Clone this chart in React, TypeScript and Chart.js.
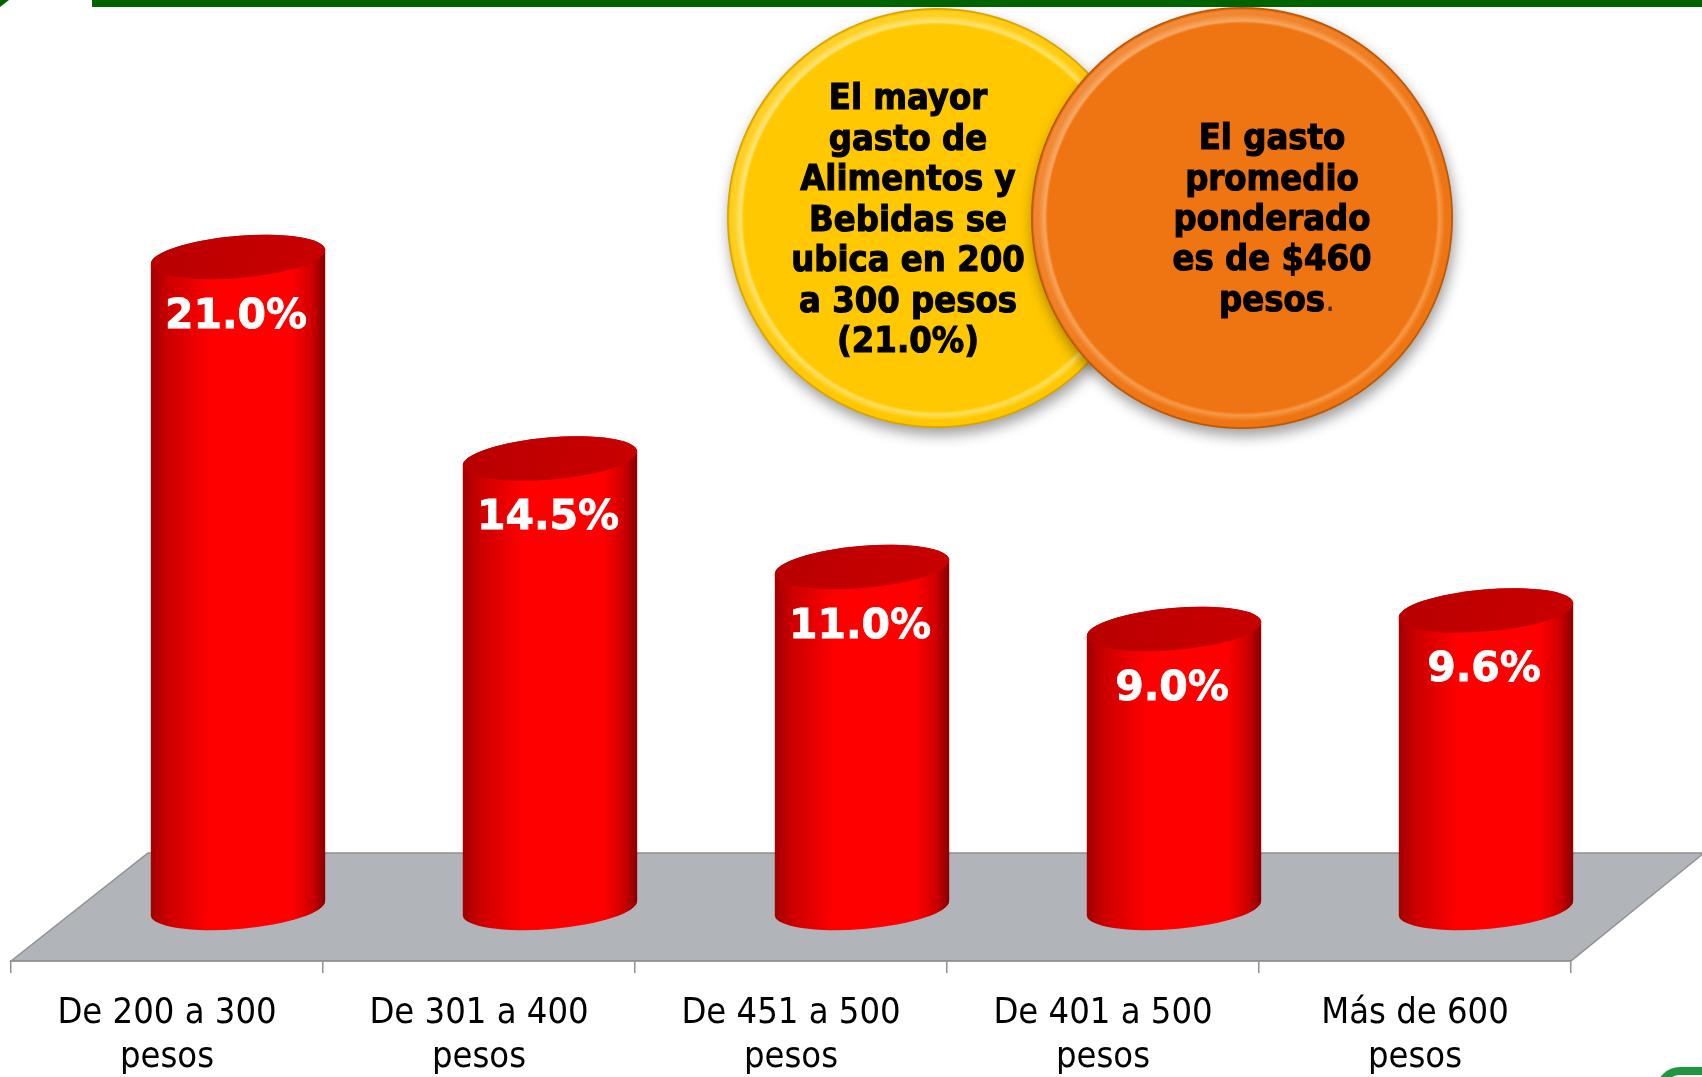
import React, { useEffect, useRef } from 'react';
import { Chart, registerables } from 'chart.js';

Chart.register(...registerables);

// ---- data ----
const categories: string[][] = [
  ['De 200 a 300', 'pesos'],
  ['De 301 a 400', 'pesos'],
  ['De 451 a 500', 'pesos'],
  ['De 401 a 500', 'pesos'],
  ['Más de 600', 'pesos'],
];
const values: number[] = [21.0, 14.5, 11.0, 9.0, 9.6];
const yellowNote: string[] = ['El mayor', 'gasto de', 'Alimentos y', 'Bebidas se', 'ubica en 200', 'a 300 pesos', '(21.0%)'];
const orangeNote: string[] = ['El gasto', 'promedio', 'ponderado', 'es de $460', 'pesos'];

const W = 1702;
const H = 1077;
const COND = "'DejaVu Sans Condensed', 'DejaVu Sans', sans-serif";

const floorPlugin = {
  id: 'floor3d',
  beforeDraw(chart: any) {
    const { ctx, chartArea } = chart;
    const { left, right, bottom } = chartArea;
    ctx.save();
    ctx.beginPath();
    ctx.moveTo(left, bottom);
    ctx.lineTo(left + 137, bottom - 108);
    ctx.lineTo(right + 133, bottom - 108);
    ctx.lineTo(right, bottom);
    ctx.closePath();
    ctx.fillStyle = '#b1b4b8';
    ctx.fill();
    ctx.strokeStyle = '#8e9094';
    ctx.lineWidth = 1.5;
    ctx.stroke();
    ctx.restore();
  },
};

const cylinderPlugin = {
  id: 'cylinders',
  afterDatasetsDraw(chart: any) {
    const { ctx } = chart;
    const meta = chart.getDatasetMeta(0);
    meta.data.forEach((bar: any, i: number) => {
      const p = bar.getProps(['x', 'y', 'base', 'width'], true);
      const cx = p.x + 71;
      const yt = p.y - 53;
      const yb = p.base - 53;
      const rx = p.width / 2;
      const ry = 21;
      const rot = -0.085;
      ctx.save();
      // side
      const g = ctx.createLinearGradient(cx - rx, 0, cx + rx, 0);
      g.addColorStop(0, '#a00000');
      g.addColorStop(0.1, '#cc0000');
      g.addColorStop(0.35, '#ff0000');
      g.addColorStop(0.8, '#ff0000');
      g.addColorStop(0.92, '#d00000');
      g.addColorStop(1, '#850000');
      ctx.beginPath();
      ctx.ellipse(cx, yb, rx, ry, rot, 0, Math.PI, false);
      ctx.ellipse(cx, yt, rx, ry, rot, Math.PI, Math.PI * 2, false);
      ctx.closePath();
      ctx.fillStyle = g;
      ctx.fill();
      // top face
      const gt = ctx.createLinearGradient(cx - rx, yt - ry, cx + rx, yt + ry);
      gt.addColorStop(0, '#b80000');
      gt.addColorStop(0.6, '#c40000');
      gt.addColorStop(1, '#c80000');
      ctx.beginPath();
      ctx.ellipse(cx, yt, rx, ry, rot, 0, Math.PI * 2);
      ctx.fillStyle = gt;
      ctx.fill();
      // value label
      ctx.fillStyle = '#ffffff';
      ctx.strokeStyle = '#ffffff';
      ctx.lineWidth = 0.8;
      ctx.font = "bold 41px 'DejaVu Sans', sans-serif";
      ctx.textAlign = 'center';
      ctx.textBaseline = 'middle';
      const txt = values[i].toFixed(1) + '%';
      ctx.fillText(txt, cx - 2, yt + 60);
      ctx.strokeText(txt, cx - 2, yt + 60);
      ctx.restore();
    });
  },
};

function drawBubble(ctx: CanvasRenderingContext2D, cx: number, cy: number, r: number, face: string, light: string, dark: string) {
  ctx.save();
  ctx.shadowColor = 'rgba(0,0,0,0.38)';
  ctx.shadowBlur = 14;
  ctx.shadowOffsetY = 7;
  ctx.shadowOffsetX = 2;
  ctx.beginPath();
  ctx.arc(cx, cy, r, 0, Math.PI * 2);
  ctx.fillStyle = dark;
  ctx.fill();
  ctx.restore();

  ctx.save();
  const g = ctx.createRadialGradient(cx, cy, r - 17, cx, cy, r);
  g.addColorStop(0, face);
  g.addColorStop(0.2, light);
  g.addColorStop(0.55, face);
  g.addColorStop(0.85, face);
  g.addColorStop(1, dark);
  ctx.beginPath();
  ctx.arc(cx, cy, r - 1.5, 0, Math.PI * 2);
  ctx.fillStyle = g;
  ctx.fill();

  // directional highlight on the upper-left rim
  const hl = ctx.createLinearGradient(cx - r, cy - r, cx + r * 0.3, cy + r * 0.3);
  hl.addColorStop(0, 'rgba(255,255,255,0.22)');
  hl.addColorStop(1, 'rgba(255,255,255,0)');
  ctx.beginPath();
  ctx.arc(cx, cy, r - 3, 0, Math.PI * 2);
  ctx.arc(cx, cy, r - 15, 0, Math.PI * 2, true);
  ctx.fillStyle = hl;
  ctx.fill();

  ctx.beginPath();
  ctx.arc(cx, cy, r - 17, 0, Math.PI * 2);
  ctx.fillStyle = face;
  ctx.fill();
  ctx.restore();
}

const decorPlugin = {
  id: 'decor',
  afterDraw(chart: any) {
    const { ctx } = chart;
    ctx.save();
    // top green band
    ctx.fillStyle = '#006400';
    ctx.fillRect(92, 0, W - 92, 7);
    ctx.beginPath();
    ctx.moveTo(0, 0);
    ctx.lineTo(9, 0);
    ctx.lineTo(0, 7);
    ctx.closePath();
    ctx.fill();

    // bottom-right green frame corner
    ctx.strokeStyle = '#1f9640';
    ctx.lineWidth = 8;
    ctx.beginPath();
    (ctx as any).roundRect(1660, 1071, 200, 100, 20);
    ctx.stroke();

    // bubbles
    drawBubble(ctx, 937, 218, 210, '#ffc800', '#ffe160', '#d9a300');
    drawBubble(ctx, 1242, 218, 211, '#ef7412', '#f59a48', '#b85808');

    ctx.fillStyle = '#000000';
    ctx.strokeStyle = '#000000';
    ctx.lineWidth = 1.1;
    ctx.textAlign = 'center';
    ctx.textBaseline = 'middle';
    ctx.font = `bold 36px ${COND}`;
    yellowNote.forEach((line, k) => {
      const y = 100 + k * 40.5;
      ctx.fillText(line, 908, y);
      ctx.strokeText(line, 908, y);
    });
    orangeNote.forEach((line, k) => {
      const y = 140 + k * 40.3;
      ctx.fillText(line, 1272, y);
      ctx.strokeText(line, 1272, y);
    });
    // trailing period of the orange note (regular weight)
    const last = orangeNote[orangeNote.length - 1];
    const wLast = ctx.measureText(last).width;
    ctx.textAlign = 'left';
    ctx.font = `36px ${COND}`;
    ctx.fillStyle = '#333333';
    ctx.fillText('.', 1272 + wLast / 2, 140 + (orangeNote.length - 1) * 40.3);
    ctx.restore();
  },
};

export default function App() {
  const ref = useRef<HTMLCanvasElement | null>(null);

  useEffect(() => {
    document.body.style.margin = '0';
    const canvas = ref.current;
    if (!canvas) return;
    const chart = new Chart(canvas, {
      type: 'bar',
      data: {
        labels: categories,
        datasets: [
          {
            data: values,
            backgroundColor: 'rgba(0,0,0,0)',
            borderWidth: 0,
            categoryPercentage: 1,
            barPercentage: 0.561,
          },
        ],
      },
      options: {
        animation: false,
        responsive: false,
        maintainAspectRatio: false,
        devicePixelRatio: 1,
        layout: { padding: { left: 11, right: 131, top: 31, bottom: 0 } },
        plugins: {
          legend: { display: false },
          tooltip: { enabled: false },
        },
        scales: {
          x: {
            offset: true,
            grid: {
              offset: true,
              display: true,
              drawOnChartArea: false,
              drawTicks: true,
              tickLength: 12,
              color: '#8e9094',
              lineWidth: 1.5,
            },
            border: { display: true, color: '#8e9094', width: 1.5 },
            ticks: {
              color: '#000000',
              font: { family: COND, size: 36, lineHeight: 44.5 / 36 },
              padding: 18,
              maxRotation: 0,
              autoSkip: false,
            },
            afterFit: (s: any) => {
              s.height = 116;
            },
          },
          y: { display: false, min: 0, max: 30 },
        },
      } as any,
      plugins: [floorPlugin, cylinderPlugin, decorPlugin],
    });
    return () => chart.destroy();
  }, []);

  return (
    <div style={{ position: 'fixed', left: 0, top: 0, width: W, height: H, background: '#ffffff' }}>
      <canvas ref={ref} width={W} height={H} style={{ width: W, height: H, display: 'block' }} />
    </div>
  );
}
